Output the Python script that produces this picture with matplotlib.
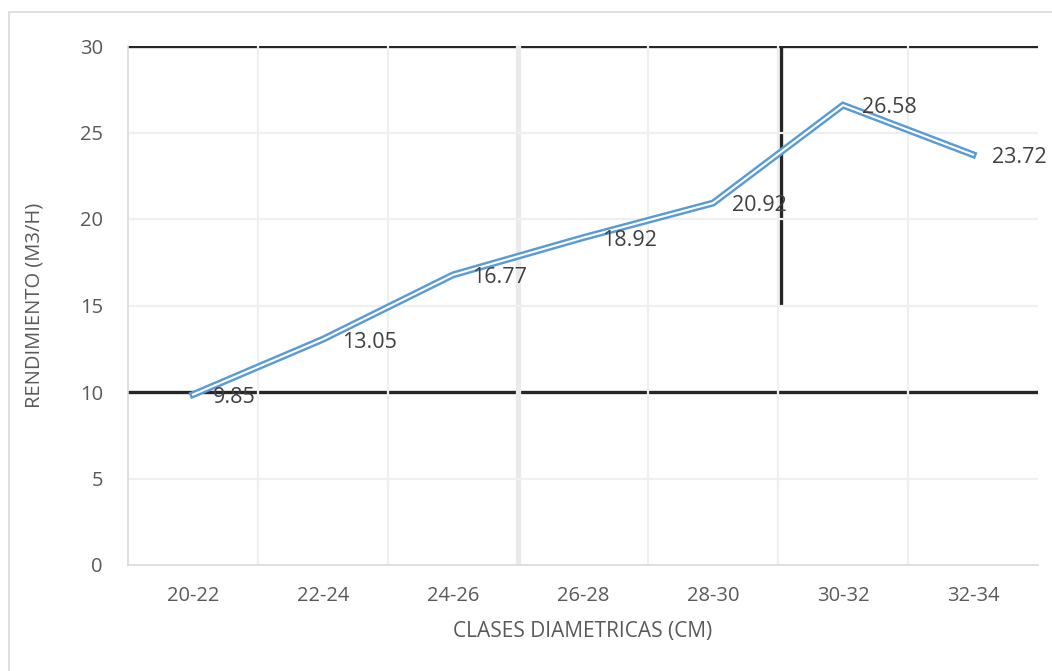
import matplotlib.pyplot as plt
from matplotlib.patches import Rectangle

# Data
clases = ['20-22', '22-24', '24-26', '26-28', '28-30', '30-32', '32-34']
rendimiento = [9.85, 13.05, 16.77, 18.92, 20.92, 26.58, 23.72]

# reference lines drawn over the chart
h_lines = [30, 10]
v_line_x = 4.52
v_line_range = (15, 30)

BLUE = '#5B9BD5'
GRID = '#EFEFEF'
TEXT = '#595959'

plt.rcParams['font.family'] = ['Open Sans', 'DejaVu Sans']

fig = plt.figure(figsize=(10.52, 6.71), dpi=100)
ax = fig.add_axes([128 / 1052, 106 / 671, 910 / 1052, 519 / 671])

x = list(range(len(clases)))

# black lines (under the gridlines so the gridlines cut small gaps)
for h in h_lines:
    ax.axhline(h, color='#262626', linewidth=2.4, zorder=1)
ax.plot([v_line_x, v_line_x], v_line_range, color='#262626', linewidth=2.4,
        zorder=1, solid_capstyle='butt')

# gridlines
for b in [i + 0.5 for i in x[:-1]]:
    lw = 3.8 if b == 2.5 else 1.6
    col = '#EAEAEA' if b == 2.5 else GRID
    ax.axvline(b, color=col, linewidth=lw, zorder=2)
for g in [5, 15, 20, 25]:
    ax.axhline(g, color=GRID, linewidth=1.6, zorder=2)

# double line
ax.plot(x, rendimiento, color=BLUE, linewidth=5.0, zorder=3,
        solid_joinstyle='miter')
ax.plot(x, rendimiento, color='white', linewidth=1.5, zorder=4,
        solid_joinstyle='miter')

for xi, v in zip(x, rendimiento):
    ax.annotate(f'{v:.2f}', (xi, v), xytext=(14, -2), textcoords='offset points',
                ha='left', va='center', fontsize=15.5, color='#404040', zorder=5)

ax.set_xlim(-0.5, 6.5)
ax.set_ylim(0, 30)
ax.set_xticks(x)
ax.set_xticklabels(clases)
ax.set_yticks(range(0, 31, 5))
ax.tick_params(length=0, labelsize=14.5, colors=TEXT)
ax.tick_params(axis='x', pad=15)
ax.tick_params(axis='y', pad=18)

for s in ['top', 'right']:
    ax.spines[s].set_visible(False)
for s in ['left', 'bottom']:
    ax.spines[s].set_color('#D9D9D9')
    ax.spines[s].set_linewidth(1.2)

ax.set_xlabel('CLASES DIAMETRICAS (CM)', fontsize=15, color=TEXT)
ax.set_ylabel('RENDIMIENTO (M3/H)', fontsize=14.5, color=TEXT)
ax.xaxis.set_label_coords(0.5, -(632 - 565) / 519)
ax.yaxis.set_label_coords(-(128 - 35) / 910, 0.5)
ax.xaxis.label.set_va('center')
ax.yaxis.label.set_va('center')

# outer chart border
fig.patches.append(Rectangle((9 / 1052, -0.01), 1.0, 1 - 12 / 671 + 0.01,
                             transform=fig.transFigure, fill=False,
                             edgecolor='#D9D9D9', linewidth=1.2))

fig.savefig('out.png', dpi=100, facecolor='white')
